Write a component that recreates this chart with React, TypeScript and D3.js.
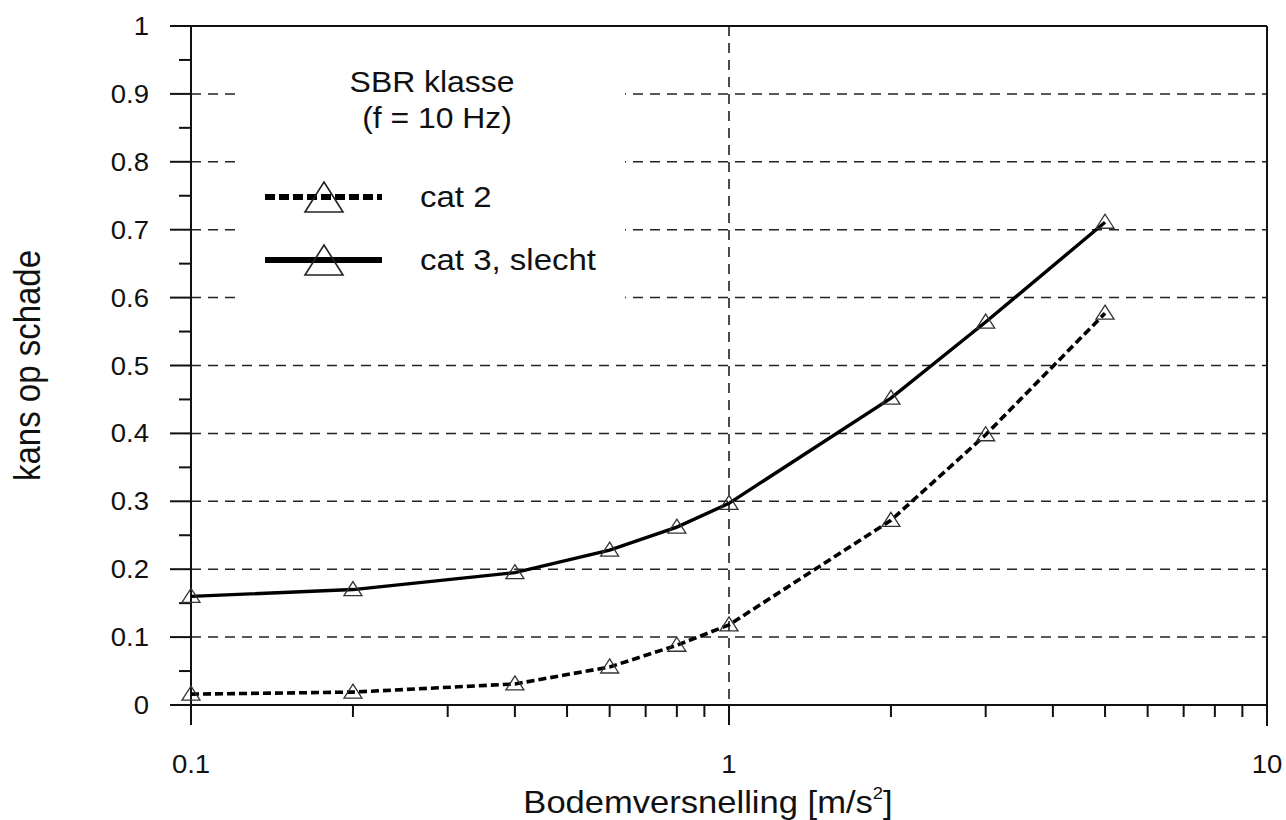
import * as d3 from 'd3'

const xValues = [0.1, 0.2, 0.4, 0.6, 0.8, 1, 2, 3, 5]
const cat2Values = [0.016, 0.019, 0.031, 0.056, 0.088, 0.118, 0.272, 0.398, 0.577]
const cat3Values = [0.16, 0.17, 0.195, 0.228, 0.262, 0.297, 0.452, 0.564, 0.711]
const yTicks = [0, 0.1, 0.2, 0.3, 0.4, 0.5, 0.6, 0.7, 0.8, 0.9, 1]
const yTickLabels = ['0', '0.1', '0.2', '0.3', '0.4', '0.5', '0.6', '0.7', '0.8', '0.9', '1']
const xMajor = [0.1, 1, 10]
const xMajorLabels = ['0.1', '1', '10']
const xMinor = [0.2, 0.3, 0.4, 0.5, 0.6, 0.7, 0.8, 0.9, 2, 3, 4, 5, 6, 7, 8, 9]
const gridValues = [0.1, 0.2, 0.3, 0.4, 0.5, 0.6, 0.7, 0.8, 0.9]
const series = [
  { name: 'cat 2', values: cat2Values, dashed: true },
  { name: 'cat 3, slecht', values: cat3Values, dashed: false },
]

const FONT = '"Liberation Sans", Arial, sans-serif'

function triPath(cx: number, cy: number, hw: number, up: number, down: number) {
  return `M${cx},${cy - up}L${cx + hw},${cy + down}L${cx - hw},${cy + down}Z`
}

function SText({ x, y, sx = 1.1, size, anchor = 'start', children }: any) {
  return (
    <text
      transform={`translate(${x},${y}) scale(${sx},1)`}
      textAnchor={anchor}
      fontSize={size}
      fontFamily={FONT}
      fill="#111"
    >
      {children}
    </text>
  )
}

export default function App() {
  const width = 1286
  const height = 820
  const left = 191
  const right = 1267
  const top = 26
  const bottom = 705

  const x = d3.scaleLog().domain([0.1, 10]).range([left, right])
  const y = d3.scaleLinear().domain([0, 1]).range([bottom, top])

  const line = d3
    .line<number>()
    .x((_, i) => x(xValues[i]))
    .y((d) => y(d))

  const minorY = d3.range(0.05, 1, 0.1)

  return (
    <svg
      width={width}
      height={height}
      style={{ position: 'absolute', left: 0, top: 0, background: '#fff' }}
    >
      <rect x={0} y={0} width={width} height={height} fill="#fff" />
      {/* horizontal grid */}
      {gridValues.map((v) => (
        <line
          key={`g-${v}`}
          x1={left}
          x2={right}
          y1={y(v)}
          y2={y(v)}
          stroke="#222"
          strokeWidth={1.5}
          strokeDasharray="10 7"
        />
      ))}
      {/* legend backdrop hides grid */}
      <rect x={238} y={58} width={387} height={262} fill="#fff" />
      {/* vertical dashed at x = 1 */}
      <line x1={x(1)} x2={x(1)} y1={top} y2={bottom + 20} stroke="#111" strokeWidth={1.5} strokeDasharray="10 7" />

      {/* frame */}
      <line x1={left - 21} x2={right} y1={top} y2={top} stroke="#111" strokeWidth={2} />
      <line x1={left - 21} x2={right} y1={bottom} y2={bottom} stroke="#111" strokeWidth={2} />
      <line x1={left} x2={left} y1={top} y2={bottom + 20} stroke="#111" strokeWidth={2} />
      <line x1={right} x2={right} y1={top} y2={bottom + 21} stroke="#111" strokeWidth={2} />

      {/* y ticks */}
      {yTicks.map((v, i) => (
        <g key={`yt-${v}`}>
          <line x1={left - 21} x2={left} y1={y(v)} y2={y(v)} stroke="#111" strokeWidth={2} />
          <SText x={149} y={y(v) + 9} size={25} anchor="end">
            {yTickLabels[i]}
          </SText>
        </g>
      ))}
      {minorY.map((v) => (
        <line key={`ym-${v}`} x1={left - 12} x2={left} y1={y(v)} y2={y(v)} stroke="#111" strokeWidth={2} />
      ))}

      {/* x ticks */}
      {xMajor.map((v, i) => (
        <g key={`xt-${v}`}>
          <line x1={x(v)} x2={x(v)} y1={bottom} y2={bottom + 20} stroke="#111" strokeWidth={2} />
          <SText x={x(v)} y={773} size={25} anchor="middle">
            {xMajorLabels[i]}
          </SText>
        </g>
      ))}
      {xMinor.map((v) => (
        <line key={`xm-${v}`} x1={x(v)} x2={x(v)} y1={bottom} y2={bottom + 12} stroke="#111" strokeWidth={2} />
      ))}

      {/* series */}
      {series.map((s) => (
        <g key={s.name}>
          <path
            d={line(s.values) || ''}
            fill="none"
            stroke="#000"
            strokeWidth={s.dashed ? 3.6 : 3.4}
            strokeDasharray={s.dashed ? '8 4' : undefined}
          />
          {s.values.map((v, i) => (
            <path
              key={i}
              d={triPath(x(xValues[i]), y(v), 9, 8, 6)}
              fill="none"
              stroke="#333"
              strokeWidth={1.3}
            />
          ))}
        </g>
      ))}

      {/* legend */}
      <SText x={432} y={92} size={29} anchor="middle">SBR klasse</SText>
      <SText x={437} y={128} size={29} anchor="middle">(f = 10 Hz)</SText>
      {series.map((s, i) => {
        const ly = 197 + i * 63
        return (
          <g key={`lg-${s.name}`}>
            <line
              x1={265}
              x2={382}
              y1={ly}
              y2={ly}
              stroke="#000"
              strokeWidth={6}
              strokeDasharray={s.dashed ? '10 4' : undefined}
            />
            <path d={triPath(324, ly, 19, 15, 15)} fill="none" stroke="#222" strokeWidth={1.6} />
            <SText x={420} y={ly + 10} size={30}>
              {s.name}
            </SText>
          </g>
        )
      })}

      {/* axis titles */}
      <SText x={708} y={813} size={32} sx={1.08} anchor="middle">
        Bodemversnelling [m/s
        <tspan fontSize={17} dy={-14}>2</tspan>
        <tspan dy={14}>]</tspan>
      </SText>
      <text
        transform={`translate(40,${(top + bottom) / 2}) rotate(-90) scale(1,1.1)`}
        textAnchor="middle"
        fontSize={33}
        fontFamily={FONT}
        fill="#111"
      >
        kans op schade
      </text>
    </svg>
  )
}
